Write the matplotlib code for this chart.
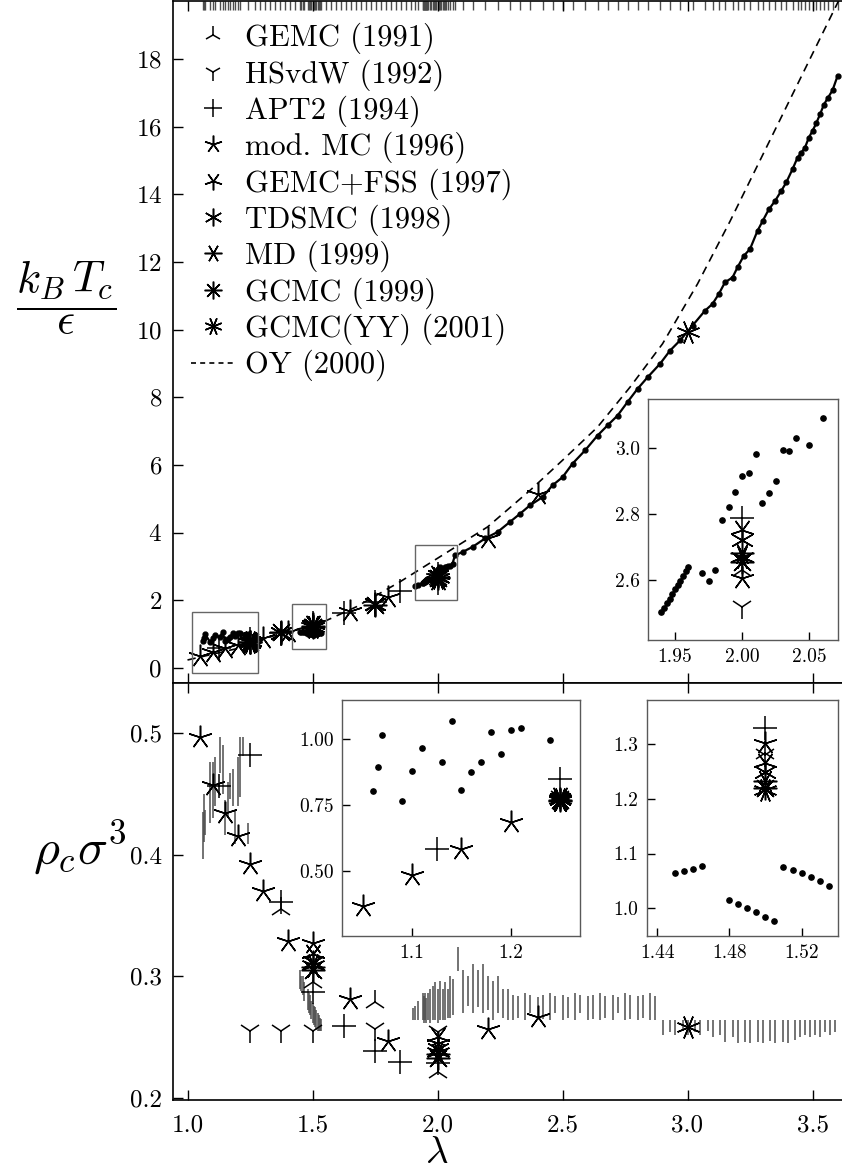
import numpy as np
import matplotlib.pyplot as plt
from matplotlib.patches import Rectangle
from matplotlib.lines import Line2D
import matplotlib.transforms as mtransforms

plt.rcParams['font.family'] = 'cmr10'
plt.rcParams['mathtext.fontset'] = 'cm'
plt.rcParams['axes.formatter.use_mathtext'] = True

nan = np.nan

# ---- this work: critical temperature vs well width ----
lam_a = [1.06, 1.065, 1.07, 1.09, 1.10, 1.11, 1.13, 1.14, 1.15, 1.16, 1.17, 1.18, 1.19, 1.20, 1.21, 1.24]
tc_a = [0.802, 0.896, 1.018, 0.766, 0.881, 0.966, 0.912, 1.071, 0.807, 0.874, 0.912, 1.029, 0.944, 1.037, 1.042, 0.996]
lam_gap1 = [1.27, 1.29, 1.31, 1.33, 1.35, 1.37, 1.39, 1.41, 1.43]
lam_b = [1.45, 1.455, 1.46, 1.465, 1.48, 1.485, 1.49, 1.495, 1.50, 1.505, 1.51, 1.515, 1.52, 1.525, 1.53, 1.535]
tc_b = [1.065, 1.068, 1.072, 1.077, 1.015, 1.007, 1.000, 0.993, 0.984, 0.977, 1.076, 1.070, 1.064, 1.057, 1.049, 1.040]
lam_gap2 = [1.555, 1.575, 1.595, 1.615, 1.635, 1.655, 1.675, 1.695, 1.715, 1.735, 1.755,
            1.775, 1.795, 1.815, 1.835, 1.855, 1.875, 1.895]
lam_c = [1.91, 1.92, 1.940, 1.942, 1.944, 1.946, 1.948, 1.950, 1.952, 1.954, 1.956, 1.958, 1.960,
         1.97, 1.975, 1.98, 1.985, 1.99, 1.995, 2.00, 2.005, 2.01, 2.015, 2.02, 2.025, 2.03, 2.035,
         2.04, 2.05, 2.06]
tc_c = [2.42, 2.46, 2.503, 2.517, 2.531, 2.544, 2.558, 2.572, 2.586, 2.599, 2.613, 2.627, 2.641,
        2.621, 2.598, 2.631, 2.783, 2.823, 2.867, 2.916, 2.926, 2.983, 2.833, 2.865, 2.901, 2.995, 2.990,
        3.030, 3.010, 3.090]
lam_d = [2.07, 2.10, 2.14, 2.19, 2.24, 2.29, 2.33, 2.37, 2.42, 2.46, 2.50, 2.54, 2.59, 2.64, 2.68,
         2.72, 2.76, 2.80, 2.84, 2.89, 2.93, 2.97, 3.02, 3.07, 3.10, 3.125, 3.15, 3.18, 3.20, 3.225,
         3.25, 3.28, 3.30, 3.325, 3.35, 3.375, 3.395, 3.42, 3.44, 3.455, 3.47, 3.485, 3.50, 3.515,
         3.53, 3.545, 3.56, 3.58, 3.60]
tc_d = [3.33, 3.43, 3.58, 3.83, 4.02, 4.32, 4.56, 4.81, 5.05, 5.40, 5.64, 6.04, 6.43, 6.87, 7.17,
        7.46, 7.86, 8.25, 8.59, 8.99, 9.38, 9.68, 10.12, 10.56, 10.76, 11.05, 11.40, 11.54, 11.84, 12.18,
        12.38, 12.92, 13.20, 13.55, 13.80, 14.10, 14.35, 14.74, 15.08, 15.23, 15.38, 15.67, 15.87, 16.10,
        16.36, 16.64, 16.83, 17.07, 17.49]

# ---- this work: critical density error bars ----
bar_lam = [1.06, 1.065, 1.07, 1.09, 1.10, 1.11, 1.13, 1.14, 1.15, 1.16, 1.17, 1.18, 1.19, 1.20, 1.21, 1.22, 1.24,
           1.45, 1.455, 1.46, 1.465, 1.48, 1.485, 1.49, 1.495, 1.50, 1.505, 1.51, 1.515, 1.52, 1.525, 1.53, 1.535,
           1.90, 1.91, 1.92, 1.94, 1.945, 1.95, 1.955, 1.96, 1.97, 1.98, 1.99, 2.00, 2.01, 2.02, 2.03, 2.04,
           2.05, 2.06, 2.08, 2.10, 2.12, 2.14, 2.16, 2.18, 2.20, 2.22, 2.24, 2.26, 2.28,
           2.30, 2.32, 2.35, 2.37, 2.40, 2.42, 2.45, 2.47, 2.50, 2.52, 2.55, 2.57, 2.60, 2.62, 2.65,
           2.67, 2.70, 2.72, 2.75, 2.77, 2.80, 2.82, 2.85, 2.87,
           2.90, 2.93, 2.95, 2.98, 3.00, 3.03, 3.05, 3.08, 3.10, 3.13, 3.15, 3.18, 3.20, 3.23, 3.25,
           3.28, 3.30, 3.33, 3.35, 3.38, 3.40, 3.43, 3.45, 3.47, 3.49, 3.51, 3.53, 3.55, 3.57, 3.59]
bar_lo = [0.396, 0.410, 0.416, 0.426, 0.430, 0.440, 0.467, 0.450, 0.416, 0.430, 0.446, 0.440, 0.409, 0.440, 0.447, 0.481, 0.409,
          0.290, 0.288, 0.285, 0.280, 0.272, 0.270, 0.268, 0.265, 0.262, 0.260, 0.258, 0.256, 0.255, 0.255, 0.255, 0.255,
          0.264, 0.264, 0.264, 0.264, 0.262, 0.264, 0.262, 0.264, 0.262, 0.264, 0.264, 0.262, 0.264, 0.264, 0.264, 0.266,
          0.266, 0.268, 0.304, 0.270, 0.276, 0.270, 0.275, 0.270, 0.272, 0.264, 0.270, 0.266, 0.264,
          0.264, 0.266, 0.264, 0.270, 0.264, 0.265, 0.264, 0.270, 0.264, 0.266, 0.264, 0.270, 0.264, 0.265, 0.264,
          0.266, 0.264, 0.270, 0.264, 0.265, 0.264, 0.266, 0.264, 0.264,
          0.252, 0.254, 0.252, 0.255, 0.252, 0.254, 0.252, 0.255, 0.250, 0.252, 0.246, 0.250, 0.245, 0.246, 0.245,
          0.246, 0.245, 0.247, 0.245, 0.246, 0.245, 0.248, 0.250, 0.252, 0.250, 0.252, 0.250, 0.254, 0.252, 0.254]
bar_hi = [0.435, 0.450, 0.437, 0.476, 0.476, 0.480, 0.497, 0.490, 0.445, 0.460, 0.467, 0.470, 0.437, 0.480, 0.497, 0.497, 0.426,
          0.305, 0.300, 0.300, 0.295, 0.290, 0.286, 0.285, 0.280, 0.278, 0.276, 0.275, 0.272, 0.270, 0.268, 0.266, 0.265,
          0.274, 0.276, 0.280, 0.286, 0.284, 0.286, 0.282, 0.286, 0.290, 0.292, 0.295, 0.290, 0.296, 0.290, 0.295, 0.290,
          0.300, 0.298, 0.324, 0.305, 0.300, 0.310, 0.305, 0.310, 0.300, 0.296, 0.300, 0.290, 0.290,
          0.285, 0.284, 0.286, 0.285, 0.283, 0.285, 0.286, 0.284, 0.285, 0.283, 0.286, 0.285, 0.284, 0.285, 0.286,
          0.284, 0.285, 0.283, 0.286, 0.285, 0.284, 0.285, 0.286, 0.284,
          0.264, 0.264, 0.264, 0.264, 0.264, 0.264, 0.264, 0.264, 0.264, 0.264, 0.264, 0.264, 0.264, 0.264, 0.264,
          0.264, 0.264, 0.264, 0.264, 0.264, 0.264, 0.264, 0.264, 0.264, 0.264, 0.264, 0.264, 0.264, 0.264, 0.264]

# ---- OY (2000) ----
oy_lam = [1.00, 1.20, 1.37, 1.53, 1.675, 1.85, 2.04, 2.20, 2.37, 2.50, 2.64, 2.77, 2.90, 3.04, 3.17,
          3.21, 3.39, 3.57, 3.62]
oy_tc = [0.24, 0.58, 1.02, 1.32, 1.81, 2.55, 3.43, 4.17, 5.25, 6.14, 7.12, 8.30, 9.58, 11.35, 13.20,
         13.80, 16.50, 19.20, 19.95]

# ---- literature critical points ----
gemc91_lam = [1.375, 1.5, 1.75, 2.0]
gemc91_tc = [1.00, 1.284, 1.87, 2.631]
gemc91_rho = [0.355, 0.295, 0.279, 0.221]

hsvdw_lam = [1.25, 1.375, 1.5, 1.75, 2.0]
hsvdw_tc = [0.78, 1.02, 1.28, 1.85, 2.52]
hsvdw_rho = [0.255, 0.255, 0.255, 0.257, 0.254]

apt2_lam = [1.125, 1.25, 1.375, 1.5, 1.625, 1.75, 1.85, 2.0]
apt2_tc = [0.585, 0.849, 1.05, 1.33, 1.62, 1.95, 2.27, 2.788]
apt2_rho = [0.456, 0.482, 0.361, 0.287, 0.259, 0.239, 0.230, 0.229]

modmc_lam = [1.05, 1.1, 1.15, 1.2, 1.25, 1.3, 1.4, 1.5, 1.65, 1.8, 2.0, 2.2, 2.4]
modmc_tc = [0.366, 0.484, 0.585, 0.686, 0.770, 0.88, 1.08, 1.302, 1.68, 2.10, 2.606, 3.85, 5.15]
modmc_rho = [0.497, 0.457, 0.434, 0.415, 0.392, 0.370, 0.329, 0.327, 0.281, 0.247, 0.245, 0.257, 0.267]

fss_lam = [1.25, 1.5, 2.0]
fss_tc = [0.780, 1.265, 2.752]
fss_rho = [nan, 0.318, 0.250]

tdsmc_lam = [1.25, 1.375, 1.5, 1.75, 2.0]
tdsmc_tc = [0.775, 1.05, 1.250, 1.88, 2.722]
tdsmc_rho = [nan, nan, 0.312, nan, 0.240]

md_lam = [1.25, 1.5, 2.0]
md_tc = [0.765, 1.232, 2.682]
md_rho = [nan, 0.308, 0.236]

gcmc_lam = [1.25, 1.375, 1.5, 1.75, 2.0]
gcmc_tc = [0.770, 1.06, 1.220, 1.86, 2.656]
gcmc_rho = [nan, nan, 0.305, nan, 0.233]

yy_lam = [1.25, 1.5, 2.0, 3.0]
yy_tc = [0.775, 1.216, 2.670, 9.92]
yy_rho = [nan, 0.309, 0.238, 0.258]

# zoom boxes drawn on the upper panel (lam0, lam1, t0, t1)
box_lam0 = [1.016, 1.418, 1.908]
box_lam1 = [1.283, 1.553, 2.078]
box_t0 = [-0.15, 0.55, 2.02]
box_t1 = [1.65, 1.88, 3.65]

lam = np.array(lam_a + lam_gap1 + lam_b + lam_gap2 + lam_c + lam_d)
tc = np.array(tc_a + [nan] * len(lam_gap1) + tc_b + [nan] * len(lam_gap2) + tc_c + tc_d)

lit = [
    ('GEMC (1991)', '2', gemc91_lam, gemc91_tc, gemc91_rho),
    ('HSvdW (1992)', '1', hsvdw_lam, hsvdw_tc, hsvdw_rho),
    ('APT2 (1994)', '+', apt2_lam, apt2_tc, apt2_rho),
    ('mod. MC (1996)', (5, 2, 0), modmc_lam, modmc_tc, modmc_rho),
    ('GEMC+FSS (1997)', (5, 2, 180), fss_lam, fss_tc, fss_rho),
    ('TDSMC (1998)', (6, 2, 0), tdsmc_lam, tdsmc_tc, tdsmc_rho),
    ('MD (1999)', (6, 2, 90), md_lam, md_tc, md_rho),
    ('GCMC (1999)', (8, 2, 0), gcmc_lam, gcmc_tc, gcmc_rho),
    ('GCMC(YY) (2001)', (8, 2, 22.5), yy_lam, yy_tc, yy_rho),
]

MS = 17
MEW = 1.1

fig = plt.figure(figsize=(8.42, 11.76), dpi=100)
W, H = 842.0, 1176.0


def px_axes(x0, y0, x1, y1):
    return fig.add_axes([x0 / W, 1 - y1 / H, (x1 - x0) / W, (y1 - y0) / H])


ax_t = px_axes(173, 1, 842, 683)
ax_b = px_axes(173, 683, 842, 1100)

for ax in (ax_t, ax_b):
    ax.set_xlim(0.942, 3.618)
    ax.spines['right'].set_visible(False)
    ax.tick_params(direction='in', top=True, bottom=True, length=7, width=1, labelsize=18, pad=8)
    ax.tick_params(axis='x', pad=10)
    ax.set_xticks([1.0, 1.5, 2.0, 2.5, 3.0, 3.5])
    for s in ax.spines.values():
        s.set_linewidth(1.2)

# ---- upper panel ----
ax_t.set_ylim(-0.44, 19.71)
ax_t.set_yticks(range(0, 19, 2))
ax_t.tick_params(labelbottom=False)

for label, mk, l, t, r in lit:
    ax_t.plot(l, t, ls='none', marker=mk, ms=MS, mew=MEW, color='black', zorder=2)

ax_t.plot(oy_lam, oy_tc, color='black', lw=1.2, ls=(0, (5, 3.5)), zorder=3)
ax_t.plot(lam, tc, color='black', lw=1.6, marker='o', ms=3.5, zorder=4)

trans = mtransforms.blended_transform_factory(ax_t.transData, ax_t.transAxes)
ax_t.vlines(lam, 0.987, 1.0, transform=trans, color='0.3', lw=1.0, zorder=1)

for l0, l1, t0, t1 in zip(box_lam0, box_lam1, box_t0, box_t1):
    ax_t.add_patch(Rectangle((l0, t0), l1 - l0, t1 - t0, fill=False, ec='0.4', lw=1.0, zorder=5))

handles = [Line2D([], [], ls='none', marker=mk, ms=MS, mew=MEW, color='black') for _, mk, *_ in lit]
handles.append(Line2D([], [], color='black', lw=1.2, ls=(0, (3, 2.5))))
labels = [x[0] for x in lit] + ['OY (2000)']
ax_t.legend(handles, labels, loc='upper left', bbox_to_anchor=(0.0, 0.995), frameon=False,
            fontsize=22, markerscale=0.75, handlelength=1.4, handletextpad=0.35,
            labelspacing=0.16, borderaxespad=0.3, borderpad=0.3)

# inset around lambda = 2
ins_t = px_axes(648, 399, 838, 640)
ins_t.set_xlim(1.93, 2.0712)
ins_t.set_ylim(2.419, 3.149)
ins_t.set_xticks([1.95, 2.00, 2.05])
ins_t.set_yticks([2.6, 2.8, 3.0])
ins_t.xaxis.set_major_formatter('{x:.2f}')
ins_t.yaxis.set_major_formatter('{x:.1f}')

# ---- lower panel ----
ax_b.set_ylim(0.1984, 0.541)
ax_b.set_yticks([0.2, 0.3, 0.4, 0.5])
ax_b.xaxis.set_major_formatter('{x:.1f}')
ax_b.yaxis.set_major_formatter('{x:.1f}')
ax_b.vlines(bar_lam, bar_lo, bar_hi, color='0.3', lw=1.1, zorder=1)
for label, mk, l, t, r in lit:
    ax_b.plot(l, r, ls='none', marker=mk, ms=MS, mew=MEW, color='black', zorder=2)

ins_1 = px_axes(342, 700, 580, 936)
ins_1.set_xlim(1.029, 1.27)
ins_1.set_ylim(0.253, 1.149)
ins_1.set_xticks([1.1, 1.2])
ins_1.set_yticks([0.50, 0.75, 1.00])
ins_1.xaxis.set_major_formatter('{x:.1f}')
ins_1.yaxis.set_major_formatter('{x:.2f}')

ins_2 = px_axes(647, 700, 838, 936)
ins_2.set_xlim(1.4344, 1.5402)
ins_2.set_ylim(0.949, 1.381)
ins_2.set_xticks([1.44, 1.48, 1.52])
ins_2.set_yticks([1.0, 1.1, 1.2, 1.3])
ins_2.xaxis.set_major_formatter('{x:.2f}')
ins_2.yaxis.set_major_formatter('{x:.1f}')

for ins in (ins_t, ins_1, ins_2):
    ins.plot(lam, tc, ls='none', marker='o', ms=3.8, color='black', zorder=3)
    for label, mk, l, t, r in lit:
        ins.plot(l, t, ls='none', marker=mk, ms=MS, mew=MEW, color='black', zorder=2)
    ins.tick_params(direction='in', length=6, width=1, labelsize=14, pad=6)
    for s in ins.spines.values():
        s.set_color('0.35')
        s.set_linewidth(1.0)

# ---- axis labels ----
fig.text(66 / W, 1 - 298 / H, r'$\dfrac{k_B\,T_c}{\epsilon}$', fontsize=32, ha='center', va='center')
fig.text(80 / W, 1 - 848 / H, r'$\rho_c\sigma^3$', fontsize=36, ha='center', va='center')
fig.text(437 / W, 1 - 1153 / H, r'$\lambda$', fontsize=28, ha='center', va='center')

fig.savefig('out.png', dpi=100)
